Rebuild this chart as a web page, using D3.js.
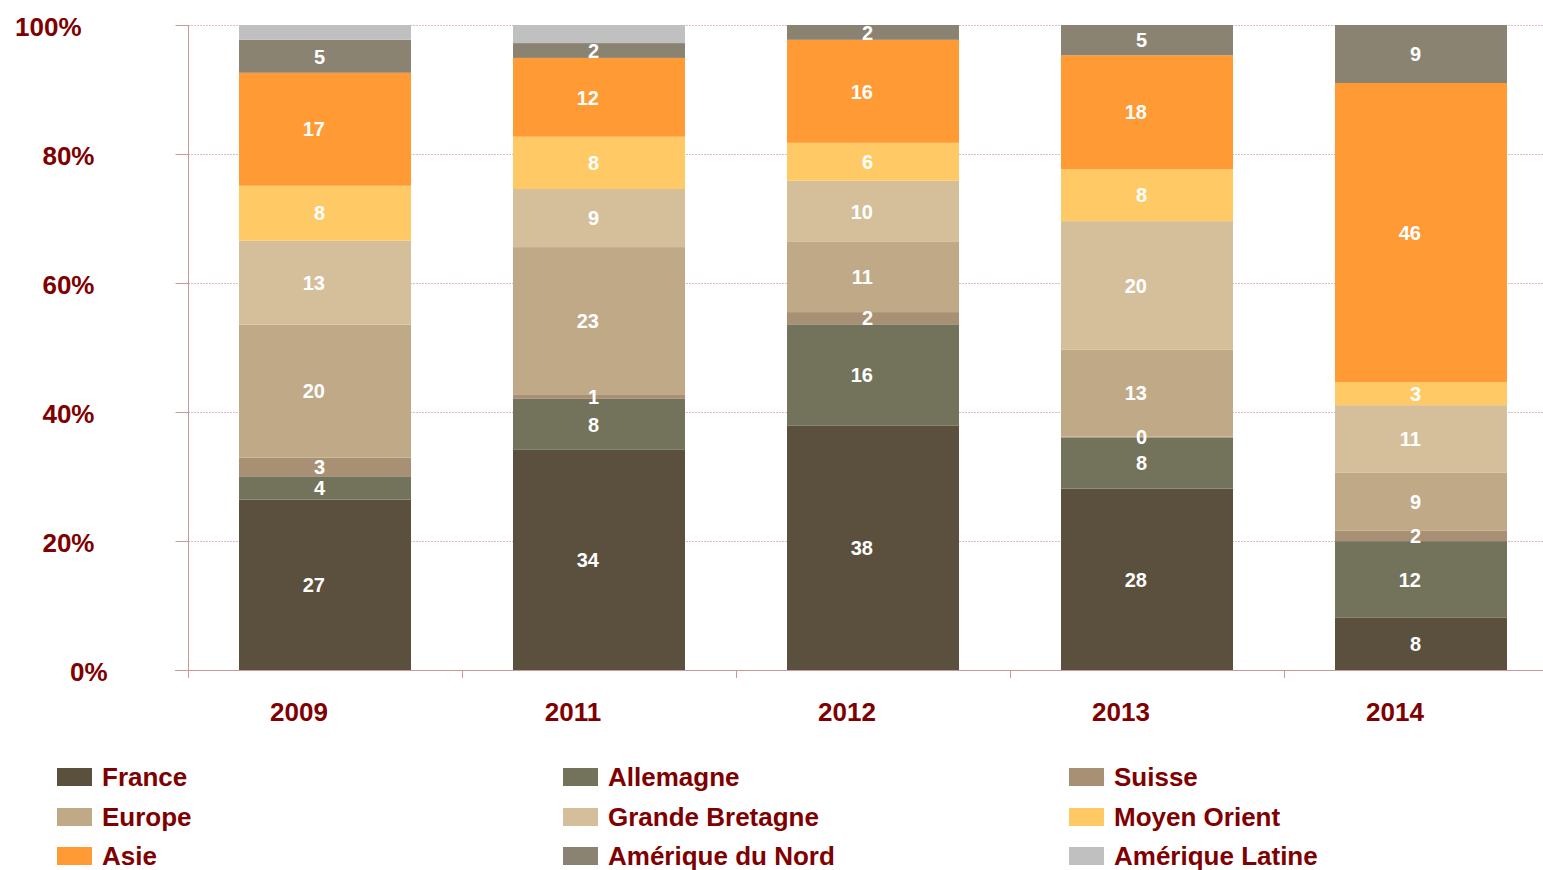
<!DOCTYPE html>
<html>
<head>
<meta charset="utf-8">
<script src="https://cdn.jsdelivr.net/npm/d3@7"></script>
<style>
  html, body { margin: 0; padding: 0; background: #ffffff; }
  svg { display: block; font-family: "Liberation Sans", Arial, sans-serif; }
</style>
</head>
<body>
<svg id="chart" width="1543" height="870"></svg>
<script>
// ---- data ----
const categories = ["2009", "2011", "2012", "2013", "2014"];
const seriesNames = ["France", "Allemagne", "Suisse", "Europe", "Grande Bretagne", "Moyen Orient", "Asie", "Amérique du Nord", "Amérique Latine"];

const france         = [26.4, 34.1, 38.0, 28.2, 8.1];
const allemagne      = [3.6, 7.9, 15.7, 7.9, 11.9];
const suisse         = [2.9, 0.6, 1.9, 0.2, 1.6];
const europe         = [20.6, 22.9, 10.9, 13.5, 9.0];
const grandeBretagne = [13.0, 9.0, 9.5, 20.0, 10.5];
const moyenOrient    = [8.5, 8.1, 5.9, 8.1, 3.6];
const asie           = [17.5, 12.2, 16.0, 17.7, 46.4];
const ameriqueNord   = [5.1, 2.3, 2.3, 4.7, 9.0];
const ameriqueLatine = [2.3, 2.8, 0, 0, 0];

const franceLabels         = ["27", "34", "38", "28", "8"];
const allemagneLabels      = ["4", "8", "16", "8", "12"];
const suisseLabels         = ["3", "1", "2", "0", "2"];
const europeLabels         = ["20", "23", "11", "13", "9"];
const grandeBretagneLabels = ["13", "9", "10", "20", "11"];
const moyenOrientLabels    = ["8", "8", "6", "8", "3"];
const asieLabels           = ["17", "12", "16", "18", "46"];
const ameriqueNordLabels   = ["5", "2", "2", "5", "9"];
const ameriqueLatineLabels = ["", "", "", "", ""];

const yTickValues = [0, 0.2, 0.4, 0.6, 0.8, 1.0];

// ---- assembly ----
const seriesValues = [france, allemagne, suisse, europe, grandeBretagne, moyenOrient, asie, ameriqueNord, ameriqueLatine];
const seriesLabels = [franceLabels, allemagneLabels, suisseLabels, europeLabels, grandeBretagneLabels, moyenOrientLabels, asieLabels, ameriqueNordLabels, ameriqueLatineLabels];
const colors = ["#5b4f3d", "#72735a", "#a89075", "#c0a986", "#d5bf9b", "#ffca66", "#ff9a35", "#8b8372", "#c0c0c0"];

const table = categories.map((c, i) => {
  const row = { cat: c };
  seriesNames.forEach((s, j) => row[s] = seriesValues[j][i]);
  return row;
});

const stack = d3.stack().keys(seriesNames).offset(d3.stackOffsetExpand);
const stacked = stack(table);

const textColor = "#7f0000";
const axisColor = "#c99a9a";
const gridColor = "#dcbcbc";

const svg = d3.select("#chart");

const x = d3.scaleBand().domain(categories).range([188, 1558]).padding(0);
const y = d3.scaleLinear().domain([0, 1]).range([670, 25]);
const barW = 172;
const color = d3.scaleOrdinal().domain(seriesNames).range(colors);

// gridlines
svg.append("g")
  .selectAll("line")
  .data(yTickValues.filter(v => v > 0))
  .join("line")
  .attr("x1", 188).attr("x2", 1543)
  .attr("y1", d => y(d) + 0.5).attr("y2", d => y(d) + 0.5)
  .attr("stroke", gridColor).attr("stroke-width", 1)
  .attr("stroke-dasharray", "2,1");

// bars
const layers = svg.append("g").selectAll("g")
  .data(stacked)
  .join("g")
  .attr("fill", d => color(d.key));

layers.selectAll("rect")
  .data(d => d)
  .join("rect")
  .attr("x", d => x(d.data.cat) + (x.bandwidth() - barW) / 2)
  .attr("width", barW)
  .attr("y", d => y(d[1]))
  .attr("height", d => Math.max(0, y(d[0]) - y(d[1])));

// y axis
const yAxis = d3.axisLeft(y).tickValues(yTickValues).tickFormat(d3.format(".0%")).tickSize(13).tickPadding(0);
const yg = svg.append("g").attr("transform", "translate(188.5,0)").call(yAxis);
yg.select(".domain").attr("stroke", axisColor).attr("d", "M0,25V678");
yg.selectAll(".tick line").attr("stroke", axisColor);
const yLabelShift = { 0: 13, 1: -13 };
yg.selectAll(".tick text")
  .attr("x", d => -94 + (yLabelShift[d] || 0))
  .attr("dy", "0.4em")
  .attr("fill", textColor)
  .attr("font-size", 26)
  .attr("font-weight", "bold")
  .attr("font-family", "'Liberation Sans', Arial, sans-serif")
  .attr("text-anchor", "end");

// x axis
svg.append("line")
  .attr("x1", 175).attr("x2", 1543)
  .attr("y1", 670.5).attr("y2", 670.5)
  .attr("stroke", axisColor).attr("stroke-width", 1);
svg.append("g").selectAll("line")
  .data(categories)
  .join("line")
  .attr("x1", d => x(d) + 0.5).attr("x2", d => x(d) + 0.5)
  .attr("y1", 670).attr("y2", 678)
  .attr("stroke", axisColor);
svg.append("g").selectAll("text")
  .data(categories)
  .join("text")
  .attr("x", d => x(d) + x.bandwidth() / 2 - 26)
  .attr("y", 721)
  .attr("text-anchor", "middle")
  .attr("fill", textColor)
  .attr("font-size", 26)
  .attr("font-weight", "bold")
  .text(d => d);

// data labels
stacked.forEach((layer, j) => {
  svg.append("g").selectAll("text")
    .data(layer.map((d, i) => ({ d, label: seriesLabels[j][i] })).filter(o => o.label !== ""))
    .join("text")
    .attr("x", o => x(o.d.data.cat) + x.bandwidth() / 2)
    .attr("y", o => (y(o.d[0]) + y(o.d[1])) / 2)
    .attr("dy", "0.36em")
    .attr("text-anchor", "end")
    .attr("fill", "#ffffff")
    .attr("font-size", 20)
    .attr("font-weight", "bold")
    .text(o => o.label);
});

// legend
const legendCols = [57, 563, 1069];
const legendRows = [777, 817, 856];
const legend = svg.append("g").selectAll("g")
  .data(seriesNames)
  .join("g")
  .attr("transform", (d, i) => `translate(${legendCols[i % 3]},${legendRows[Math.floor(i / 3)]})`);
legend.append("rect")
  .attr("x", 0).attr("y", -9)
  .attr("width", 35).attr("height", 18)
  .attr("fill", d => color(d));
legend.append("text")
  .attr("x", 45).attr("y", 0)
  .attr("dy", "0.35em")
  .attr("fill", textColor)
  .attr("font-size", 26)
  .attr("font-weight", "bold")
  .text(d => d);
</script>
</body>
</html>
